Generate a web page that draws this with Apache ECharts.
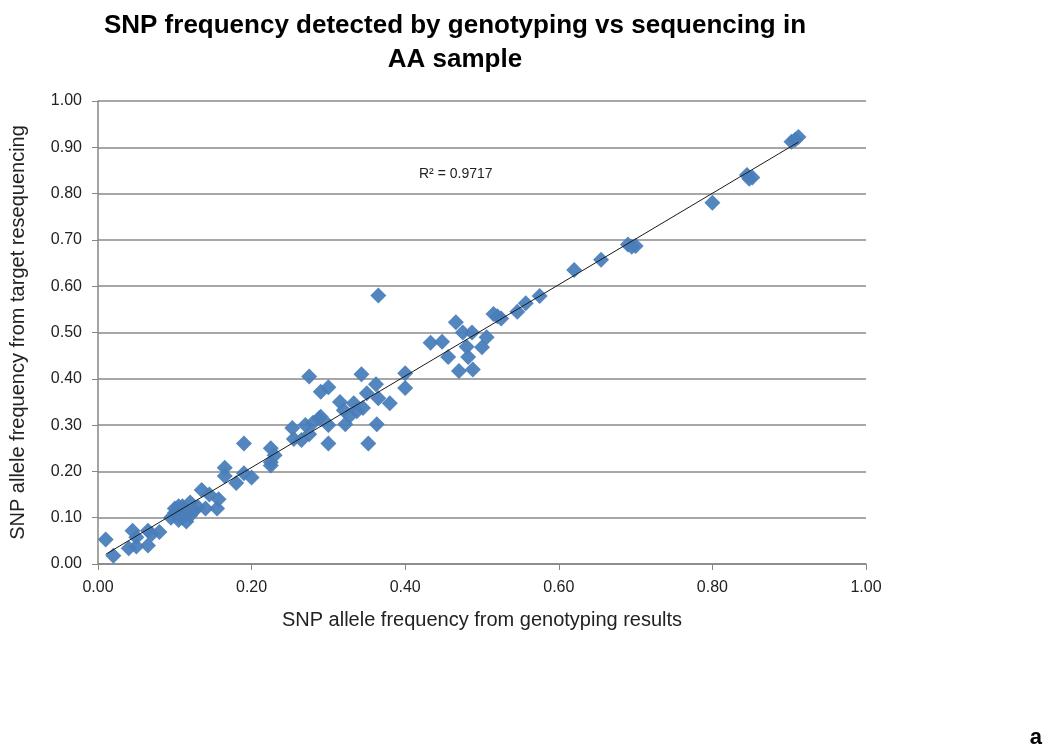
<!DOCTYPE html>
<html>
<head>
<meta charset="utf-8">
<title>SNP frequency</title>
<script src="https://cdn.jsdelivr.net/npm/echarts@6/dist/echarts.min.js"></script>
<style>
  html, body { margin: 0; padding: 0; background: #fff; }
  #chart { width: 1050px; height: 755px; }
</style>
</head>
<body>
<div id="chart"></div>
<script>
// allele frequency from genotyping (x) and from target resequencing (y)
var genotyping = [
  0.01, 0.02, 0.04, 0.045, 0.05, 0.05, 0.065, 0.065, 0.07, 0.08,
  0.095, 0.10, 0.10, 0.105, 0.11, 0.11, 0.115, 0.12, 0.12, 0.125, 0.13, 0.105, 0.115,
  0.135, 0.14, 0.145, 0.155, 0.157, 0.165, 0.165, 0.18, 0.19, 0.19, 0.20,
  0.225, 0.225, 0.23, 0.225,
  0.253, 0.255, 0.265, 0.27, 0.275, 0.28, 0.288, 0.29, 0.30, 0.30, 0.275, 0.29, 0.30,
  0.315, 0.32, 0.322, 0.328, 0.333, 0.337, 0.345, 0.343, 0.35, 0.352, 0.362, 0.365, 0.363, 0.365, 0.38, 0.40, 0.40,
  0.433, 0.448, 0.456, 0.466, 0.47, 0.475, 0.48, 0.482, 0.487, 0.488, 0.50, 0.506,
  0.515, 0.52, 0.525, 0.546, 0.557, 0.575, 0.62, 0.655,
  0.69, 0.695, 0.70, 0.80, 0.845, 0.848, 0.852, 0.903, 0.908, 0.912
];
var resequencing = [
  0.053, 0.018, 0.034, 0.072, 0.058, 0.038, 0.04, 0.072, 0.065, 0.069,
  0.10, 0.11, 0.12, 0.095, 0.125, 0.10, 0.092, 0.133, 0.105, 0.115, 0.123, 0.125, 0.11,
  0.16, 0.12, 0.15, 0.12, 0.14, 0.208, 0.19, 0.175, 0.26, 0.196, 0.187,
  0.25, 0.22, 0.235, 0.213,
  0.294, 0.27, 0.268, 0.30, 0.28, 0.305, 0.315, 0.318, 0.26, 0.30, 0.405, 0.372, 0.382,
  0.35, 0.332, 0.302, 0.32, 0.347, 0.33, 0.337, 0.41, 0.369, 0.26, 0.388, 0.358, 0.302, 0.58, 0.347, 0.412, 0.38,
  0.478, 0.48, 0.447, 0.522, 0.417, 0.50, 0.469, 0.447, 0.50, 0.42, 0.468, 0.49,
  0.54, 0.535, 0.53, 0.545, 0.563, 0.579, 0.635, 0.657,
  0.69, 0.685, 0.687, 0.78, 0.84, 0.832, 0.835, 0.912, 0.917, 0.922
];
var rSquaredLabel = 'R² = 0.9717';

var points = genotyping.map(function (x, i) { return [x, resequencing[i]]; });

// least squares trend line, drawn from min x to max x like excel does
var n = points.length, sx = 0, sy = 0, sxx = 0, sxy = 0;
points.forEach(function (p) {
  sx += p[0]; sy += p[1]; sxx += p[0] * p[0]; sxy += p[0] * p[1];
});
var slope = (n * sxy - sx * sy) / (n * sxx - sx * sx);
var intercept = (sy - slope * sx) / n;
var xMin = Math.min.apply(null, genotyping);
var xMax = Math.max.apply(null, genotyping);
var trend = [[xMin, intercept + slope * xMin], [xMax, intercept + slope * xMax]];

var font = 'Liberation Sans';
var chart = echarts.init(document.getElementById('chart'));
chart.setOption({
  animation: false,
  title: {
    text: 'SNP frequency detected by genotyping vs sequencing in\nAA sample',
    left: 450,
    top: 4,
    textAlign: 'center',
    textStyle: {
      fontFamily: font,
      fontWeight: 'bold',
      fontSize: 26,
      lineHeight: 34,
      color: '#000'
    }
  },
  grid: {
    left: 93,
    right: 184,
    top: 101,
    bottom: 191
  },
  xAxis: {
    type: 'value',
    min: 0,
    max: 1,
    interval: 0.2,
    name: 'SNP allele frequency from genotyping results',
    nameLocation: 'middle',
    nameGap: 46,
    nameTextStyle: { fontFamily: font, fontSize: 20, color: '#222' },
    axisLine: { show: true, lineStyle: { color: '#868686', width: 1.5 } },
    axisTick: { show: true, length: 6, lineStyle: { color: '#868686' } },
    axisLabel: {
      margin: 16,
      fontFamily: font,
      fontSize: 16,
      color: '#222',
      formatter: function (v) { return v.toFixed(2); }
    },
    splitLine: { show: false }
  },
  yAxis: {
    type: 'value',
    min: 0,
    max: 1,
    interval: 0.1,
    name: 'SNP allele frequency from target resequencing',
    nameLocation: 'middle',
    nameGap: 70,
    nameTextStyle: { fontFamily: font, fontSize: 20, color: '#222' },
    axisLine: { show: true, lineStyle: { color: '#868686', width: 1.5 } },
    axisTick: { show: true, length: 6, lineStyle: { color: '#868686' } },
    axisLabel: {
      margin: 16,
      fontFamily: font,
      fontSize: 16,
      color: '#222',
      formatter: function (v) { return v.toFixed(2); }
    },
    splitLine: { show: true, lineStyle: { color: '#8a8a8a', width: 1.5 } }
  },
  graphic: [
    {
      type: 'text',
      left: 419,
      top: 167,
      style: { text: rSquaredLabel, font: '14px ' + font, fill: '#222' }
    },
    {
      type: 'text',
      right: 8,
      bottom: 6,
      style: { text: 'a', font: 'bold 22px ' + font, fill: '#000' }
    }
  ],
  series: [
    {
      type: 'scatter',
      data: points,
      symbol: 'diamond',
      symbolSize: 16,
      itemStyle: { color: '#4a7ebb', opacity: 0.95 },
      z: 2
    },
    {
      type: 'line',
      data: trend,
      symbol: 'none',
      lineStyle: { color: '#1a1a1a', width: 1 },
      z: 3
    }
  ]
});
</script>
</body>
</html>
